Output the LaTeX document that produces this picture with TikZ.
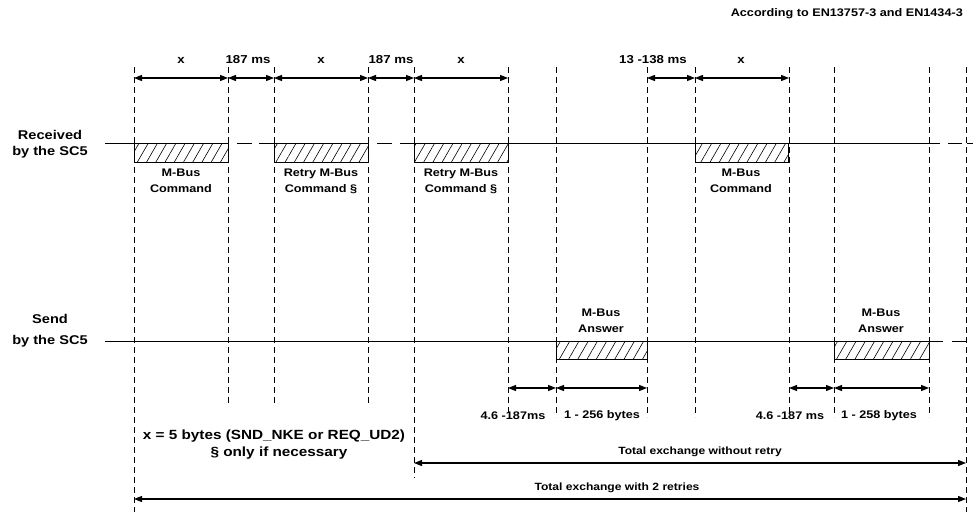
\documentclass[tikz,border=0pt]{standalone}
\usepackage{fontspec}
\setmainfont{Liberation Sans}[FakeStretch=1.15]
\usetikzlibrary{arrows.meta,patterns.meta}
\begin{document}
\begin{tikzpicture}[x=1pt,y=-1pt,
  vline/.style={draw=black,line width=0.8pt,dash pattern=on 6pt off 4pt},
  tline/.style={draw=black,line width=0.9pt},
  dim/.style={draw=black,line width=1.1pt,{Triangle[length=8pt,width=6pt]}-{Triangle[length=8pt,width=6pt]}},
  hbox/.style={draw=black,line width=0.8pt,pattern={Lines[angle=60,distance=8pt,line width=0.6pt]}},
  lbl/.style={font=\bfseries\fontsize{11}{16}\selectfont,align=center,inner sep=0pt},
  side/.style={font=\bfseries\fontsize{12.7}{17}\selectfont,inner sep=0pt},
  toplbl/.style={font=\bfseries\fontsize{11.5}{14}\selectfont,inner sep=0pt},
  botlbl/.style={font=\bfseries\fontsize{11}{14}\selectfont,inner sep=0pt},
  totlbl/.style={font=\bfseries\fontsize{10.5}{13}\selectfont,inner sep=0pt},
  notelbl/.style={font=\bfseries\fontsize{13.3}{18}\selectfont,inner sep=0pt}
]
\useasboundingbox (0,0) rectangle (973,512);
\fill[white] (0,0) rectangle (973,512);

% dashed vertical lines
\foreach \n/\x/\yb in {1/134/512,2/228/406,3/274/406,4/368/406,5/414/478,6/508/417,7/556/417,8/647/417,9/695/417,10/789/417,11/834/417,12/929/417,13/966/512}{
  \coordinate (top\n) at (\x,67);
  \coordinate (bot\n) at (\x,\yb);
  \draw[vline] (top\n) -- (bot\n);
}

% reference heights
\coordinate (ya) at (0,78);
\coordinate (yb) at (0,388);
\coordinate (yc) at (0,463);
\coordinate (yd) at (0,499);

% time lines
\draw[tline] (105,143) -- (228,143);
\draw[tline] (237,143) -- (252,143);
\draw[tline] (259,143) -- (368,143);
\draw[tline] (377,143) -- (392,143);
\draw[tline] (400,143) -- (940,143);
\draw[tline] (948,143) -- (962,143);
\draw[tline] (967,143) -- (973,143);
\draw[tline] (105,341) -- (943,341);
\draw[tline] (952,341) -- (966,341);

% hatched frames
\draw[hbox] (134,143) rectangle (228,162);
\draw[hbox] (274,143) rectangle (368,162);
\draw[hbox] (414,143) rectangle (508,162);
\draw[hbox] (695,143) rectangle (788,162);
\draw[hbox] (556,341) rectangle (647,359);
\draw[hbox] (834,341) rectangle (929,359);

% side labels
\node[side] (recv1) at (50,135) {Received};
\node[side] (recv2) at (50,152) {by the SC5};
\node[side] (send1) at (50,319) {Send};
\node[side] (send2) at (50,341) {by the SC5};

% frame labels
\node[lbl] (c1) at (181,181) {M-Bus\\Command};
\node[lbl] (c2) at (321,181) {Retry M-Bus\\Command §};
\node[lbl] (c3) at (461,181) {Retry M-Bus\\Command §};
\node[lbl] (c4) at (741,181) {M-Bus\\Command};
\node[lbl] (an1) at (601,321) {M-Bus\\Answer};
\node[lbl] (an2) at (881,321) {M-Bus\\Answer};

% top dimension arrows
\draw[dim] (top1|-ya) -- (top2|-ya);
\draw[dim] (top2|-ya) -- (top3|-ya);
\draw[dim] (top3|-ya) -- (top4|-ya);
\draw[dim] (top4|-ya) -- (top5|-ya);
\draw[dim] (top5|-ya) -- (top6|-ya);
\draw[dim] (top8|-ya) -- (top9|-ya);
\draw[dim] (top9|-ya) -- (top10|-ya);
\node[toplbl] (l1) at (181,60) {x};
\node[toplbl] (l2) at (248,60) {187 ms};
\node[toplbl] (l3) at (321,60) {x};
\node[toplbl] (l4) at (391,60) {187 ms};
\node[toplbl] (l5) at (461,60) {x};
\node[toplbl] (l6) at (653,60) {13 -138 ms};
\node[toplbl] (l7) at (741,60) {x};

% bottom dimension arrows
\draw[dim] (top6|-yb) -- (top7|-yb);
\draw[dim] (top7|-yb) -- (top8|-yb);
\draw[dim] (top10|-yb) -- (top11|-yb);
\draw[dim] (top11|-yb) -- (top12|-yb);
\node[botlbl] (b1) at (513,416) {4.6 -187ms};
\node[botlbl] (b2) at (602,416) {1 - 256 bytes};
\node[botlbl] (b3) at (790,416) {4.6 -187 ms};
\node[botlbl] (b4) at (879,416) {1 - 258 bytes};

% totals
\draw[dim] (top5|-yc) -- (top13|-yc);
\draw[dim] (top1|-yd) -- (top13|-yd);
\node[totlbl] (t1) at (700,452) {Total exchange without retry};
\node[totlbl] (t2) at (617,488) {Total exchange with 2 retries};

% notes
\node[notelbl] (n1) at (274,436) {x = 5 bytes (SND\_NKE or REQ\_UD2)};
\node[notelbl] (n2) at (279,453) {§ only if necessary};
\node[totlbl,anchor=east,font=\bfseries\fontsize{11}{13}\selectfont] (hdr) at (963,14) {According to EN13757-3 and EN1434-3};
\end{tikzpicture}
\end{document}
